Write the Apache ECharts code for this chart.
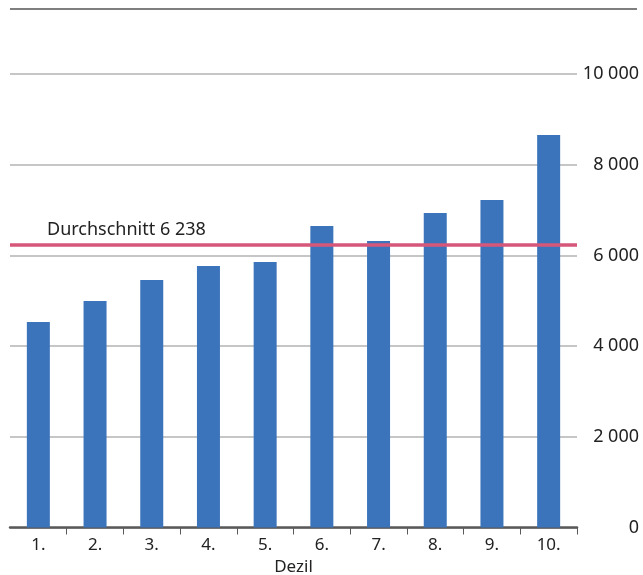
<!DOCTYPE html>
<html>
<head>
<meta charset="utf-8">
<script src="https://cdn.jsdelivr.net/npm/echarts@6/dist/echarts.min.js"></script>
<style>html,body{margin:0;padding:0;background:#fff;}#c{width:643px;height:575px;}</style>
</head>
<body>
<div id="c"></div>
<script>
const categories = ['1.', '2.', '3.', '4.', '5.', '6.', '7.', '8.', '9.', '10.'];
const values = [4530, 4995, 5460, 5765, 5855, 6650, 6315, 6935, 7220, 8655];
const averageValue = 6238;
const averageLabel = 'Durchschnitt 6 238';
const axisTitle = 'Dezil';

const chart = echarts.init(document.getElementById('c'), null, {renderer: 'canvas'});
const FONT = 'Noto Sans';
chart.setOption({
  animation: false,
  backgroundColor: '#ffffff',
  grid: {left: 10, right: 66, top: 74, bottom: 47.5, outerBoundsMode: 'none', containLabel: false},
  xAxis: {
    type: 'category',
    data: categories,
    boundaryGap: true,
    name: axisTitle,
    nameLocation: 'middle',
    nameGap: 31,
    nameTextStyle: {color: '#222', fontSize: 17, fontFamily: FONT},
    axisLine: {lineStyle: {color: '#595959', width: 2.5}},
    axisTick: {show: true, length: 7, interval: (i) => i > 0, lineStyle: {color: '#595959', width: 1}},
    axisLabel: {color: '#222', fontSize: 17, fontFamily: FONT, margin: 9}
  },
  yAxis: {
    type: 'value',
    position: 'right',
    min: 0, max: 10000, interval: 2000,
    axisLine: {show: false},
    axisTick: {show: false},
    splitLine: {lineStyle: {color: '#b3b3b3', width: 1.5}},
    axisLabel: {
      color: '#222', fontSize: 18, fontFamily: FONT, align: 'right', margin: 62,
      formatter: v => String(v).replace(/\B(?=(\d{3})+(?!\d))/g, ' ')
    }
  },
  series: [{
    type: 'bar',
    data: values,
    barWidth: 23,
    itemStyle: {color: '#3b74bb'},
    markLine: {
      silent: true,
      symbol: 'none',
      lineStyle: {color: '#d6577a', width: 3.5, type: 'solid'},
      label: {
        show: true,
        position: 'insideStartTop',
        formatter: averageLabel,
        color: '#222', fontSize: 18, fontFamily: FONT,
        distance: [37, 6]
      },
      data: [{yAxis: averageValue}]
    }
  }],
  graphic: [{
    type: 'line',
    shape: {x1: 10, y1: 9, x2: 637, y2: 9},
    style: {stroke: '#7f7f7f', lineWidth: 2}
  }]
});
</script>
</body>
</html>
